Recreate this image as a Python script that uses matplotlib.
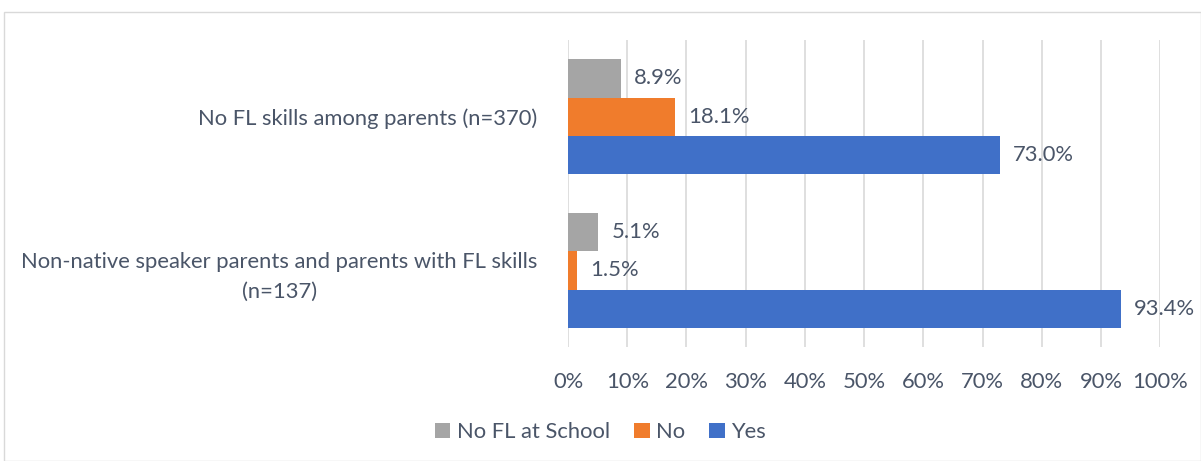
import matplotlib.pyplot as plt
from matplotlib.patches import Rectangle

categories = ['No FL skills among parents (n=370)',
              'Non-native speaker parents and parents with FL skills\n(n=137)']
series = ['No FL at School', 'No', 'Yes']
values = {
    'No FL at School': [8.9, 5.1],
    'No': [18.1, 1.5],
    'Yes': [73.0, 93.4],
}
colors = {'No FL at School': '#A5A5A5', 'No': '#F07C2C', 'Yes': '#4070C8'}
ticks = list(range(0, 101, 10))

txt = '#4A5568'
fs = 15.8
plt.rcParams['font.family'] = ['Lato', 'DejaVu Sans']

fig = plt.figure(figsize=(12.01, 4.61), dpi=100)
ax = fig.add_axes([0.473, 0.247, 0.493, 0.666])

bar_h = 0.25
for ci, cat in enumerate(categories):
    center = ci + 0.5
    for si, s in enumerate(series):
        y = center + (si - 1) * bar_h
        v = values[s][ci]
        ax.barh(y, v, height=bar_h, color=colors[s], label=s if ci == 0 else None)
        ax.text(v + 2.2, y, f'{v:.1f}%', va='center', ha='left', fontsize=fs,
                color=txt, clip_on=False)

ax.set_ylim(2, 0)
ax.set_xlim(0, 100)
ax.set_yticks([0.5, 1.5])
ax.set_yticklabels(categories, fontsize=fs, color=txt, multialignment='center',
                   linespacing=1.6)
ax.set_xticks(ticks)
ax.set_xticklabels([f'{t}%' for t in ticks], fontsize=fs, color=txt)
ax.tick_params(length=0, pad=18)
ax.tick_params(axis='y', pad=22)
ax.grid(axis='x', color='#D9D9D9', linewidth=1.2)
ax.set_axisbelow(True)
for sp in ax.spines.values():
    sp.set_visible(False)

handles, labels = ax.get_legend_handles_labels()
fig.legend(handles, labels, loc='center', bbox_to_anchor=(0.5, 0.063), ncol=3,
           frameon=False, fontsize=fs, labelcolor=txt, handlelength=0.7,
           handleheight=0.7, handletextpad=0.3, columnspacing=1.1)

fig.patches.append(Rectangle((0.003, 0.0), 0.997, 0.975, transform=fig.transFigure,
                             fill=False, edgecolor='#D9D9D9', linewidth=1))

fig.savefig('out.png', dpi=100)
